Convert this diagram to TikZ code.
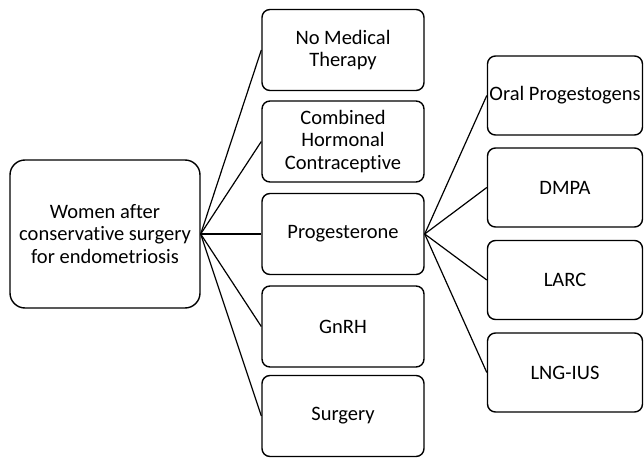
\documentclass[tikz,border=0pt]{standalone}
\usepackage{fontspec}
\setmainfont{Carlito}[Ligatures=NoCommon]
\usetikzlibrary{positioning}

\tikzset{
  box/.style={draw, line width=1.4pt, rounded corners=8pt, align=center,
    font=\fontsize{20.5}{22.5}\selectfont, inner sep=0pt},
  midbox/.style={box, minimum width=162pt, minimum height=81pt},
  subbox/.style={box, minimum width=155pt, minimum height=79pt},
  link/.style={line width=1.2pt}
}

\begin{document}
\begin{tikzpicture}[x=1pt, y=-1pt]

\useasboundingbox (0,0) rectangle (644,457);

% Root
\node[box, minimum width=190pt, minimum height=148pt, rounded corners=15pt]
  (women) at (105,234) {Women after\\conservative surgery\\for endometriosis};

% Treatment options
\node[midbox] (nomed)  at (343,50)    {No Medical\\Therapy};
\node[midbox] (chc)    at (343,141.5) {Combined\\Hormonal\\Contraceptive};
\node[midbox] (prog)   at (343,234)   {Progesterone};
\node[midbox] (gnrh)   at (343,326.5) {GnRH};
\node[midbox] (surg)   at (343,416)   {Surgery};

% Progesterone types
\node[subbox] (oral)  at (565,95.5)  {Oral Progestogens};
\node[subbox] (dmpa)  at (565,187.5) {DMPA};
\node[subbox] (larc)  at (565,280)   {LARC};
\node[subbox] (lng)   at (565,372.5) {LNG-IUS};

% Connectors
\foreach \t in {nomed, chc, prog, gnrh, surg}
  \draw[link] (women.east) -- (\t.west);
\foreach \t in {oral, dmpa, larc, lng}
  \draw[link] (prog.east) -- (\t.west);

\end{tikzpicture}
\end{document}
